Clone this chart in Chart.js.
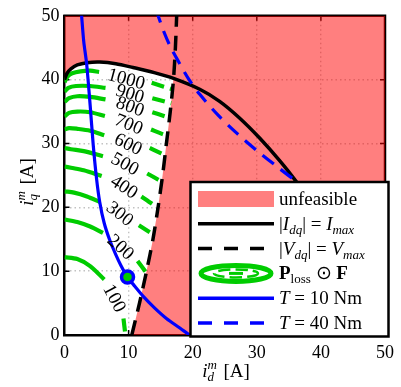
<!DOCTYPE html>
<html>
<head>
<meta charset="utf-8">
<script src="https://cdn.jsdelivr.net/npm/chart.js@4.4.0/dist/chart.umd.min.js"></script>
<style>
  html, body { margin: 0; padding: 0; background: #fff; }
  #c { display: block; }
</style>
</head>
<body>
<canvas id="c" width="401" height="387" style="width:401px;height:387px"></canvas>
<script>
// axis ticks
const xTicks = [0, 10, 20, 30, 40, 50];
const yTicks = [0, 10, 20, 30, 40, 50];

// outline of the unfeasible (red) region
const unfeasibleRegion = [[0,50],[0,40],[0.4,41],[1,41.7],[2,42.3],[3.5,42.65],[5.5,42.75],[8,42.5],[10.7,41.9],[14,41.1],[17,40.2],
  [16.5,35],[15.9,30],[15.3,25],[14.6,20],[13.8,15],[12.8,10],[11.7,5],[10.5,0],[50,0],[50,50],[0,50]];

// |Idq| = Imax
const currentLimit = [[0,40],[0.4,41],[1,41.7],[2,42.3],[3.5,42.65],[5.5,42.75],[8,42.5],[10.7,41.9],[14,41.1],[17,40.2],
  [21.1,38.5],[24.2,36.6],[27.3,34.0],[30.4,30.9],[33.5,27.4],[36.1,24.1],[38.5,20.5],[40.5,16],[42,11],[43,5],[43.3,0]];

// |Vdq| = Vmax
const voltageLimit = [[10.5,0],[11.7,5],[12.8,10],[13.8,15],[14.6,20],[15.3,25],[15.9,30],[16.5,35],[17.0,40],[17.3,45],[17.5,50],[17.55,51]];

// T = 10 Nm and T = 40 Nm
const torque10 = [[2.55,51.5],[2.67,50],[3.0,46],[3.45,42.5],[4.0,36],[4.48,29.8],[5.0,24.5],[5.5,20.8],[6.2,17.5],[7.08,14.8],
  [8.0,12.6],[8.8,10.9],[9.83,9.07],[11,7.6],[12.25,6.1],[14,4.3],[15.9,2.6],[18,1.1],[19.5,0],[21,-1]];
const torque40 = [[14.2,51],[14.6,50],[15.5,47.5],[16.5,45.2],[17.8,42.8],[19.3,40.2],[21.1,37.7],[24,34.4],[27,31.5],
  [30,28.9],[33,26.5],[36,24.2],[39,22.1],[42,20.2]];

// Ploss (.) F contours: part left of the label, part right of it, label place and angle
const lossLevels = [100, 200, 300, 400, 500, 600, 700, 800, 900, 1000];
const lossLeft = [
  [[0,12.2],[2,11.9],[4,10.8],[6.2,8.7]],
  [[0,18.1],[2,17.7],[4,17.0],[6.0,16.0]],
  [[0,22.5],[1.5,22.3],[3.5,21.7],[5.6,20.8]],
  [[0,26.4],[1,26.2],[3,25.8],[5.8,24.9]],
  [[0,29.3],[1,29.1],[3,28.8],[6,28.0]],
  [[0,32.2],[0.7,32.4],[2,32.3],[4,32.0],[6.2,31.3]],
  [[0,34.2],[0.7,34.8],[2,35.0],[4,34.9],[6.3,34.3]],
  [[0,36.5],[0.7,37.1],[2,37.4],[4,37.3],[6.4,36.9]],
  [[0,38.1],[0.6,38.7],[1.8,39.0],[4,39.0],[6.4,38.7]],
  [[0,39.6],[0.5,40.5],[1.2,41.0],[2.5,41.3],[4,41.4],[5.4,41.2]]
];
const lossRight = [
  [[9.2,2.6],[9.5,0]],
  [[11.4,11.6],[12.75,9.8]],
  [[11.6,17.2],[13.3,16.1],[13.95,15.7]],
  [[12.0,21.7],[13.6,20.6],[14.55,19.9]],
  [[12.9,25.3],[14.5,24.4],[15.15,24.0]],
  [[13.3,29.3],[15.0,28.5],[15.7,28.2]],
  [[13.5,32.2],[15.2,31.5],[16.05,31.2]],
  [[13.7,34.9],[15.5,34.3],[16.4,34.0]],
  [[13.7,37.1],[15.5,36.6],[16.65,36.3]],
  [[13.6,39.5],[15.5,38.9],[16.85,38.5]]
];
const lossLabelPos = [[7.7,5.7],[8.7,13.7],[8.6,18.9],[9.25,23.1],[9.4,26.7],[9.9,29.8],[10.0,32.9],[10.2,35.7],[10.2,37.7],[9.6,40.0]];
const lossLabelAngle = [62, 42, 38, 33, 29, 26, 22, 20, 17, 15];

// operating point
const optimumPoint = [9.83, 9.07];

const RED = 'rgba(255,0,0,0.5)';
const GREEN = 'rgb(0,204,0)';
const BLUE = '#0000ff';
const serif = '"Liberation Serif", "Times New Roman", serif';

const pts = arr => arr.map(p => ({ x: p[0], y: p[1] }));

const datasets = [];
datasets.push({
  data: pts(unfeasibleRegion), showLine: true, fill: 'shape', backgroundColor: RED,
  borderColor: 'rgba(0,0,0,0)', borderWidth: 0, pointRadius: 0, tension: 0, order: 20
});
lossLevels.forEach((lvl, i) => {
  datasets.push({ data: pts(lossLeft[i]), showLine: true, borderColor: GREEN, borderWidth: 4.2,
    pointRadius: 0, tension: 0.3, fill: false, order: 10 });
  datasets.push({ data: pts(lossRight[i]), showLine: true, borderColor: GREEN, borderWidth: 4.2, borderDash: [13, 6],
    pointRadius: 0, tension: 0.3, fill: false, order: 10 });
});
datasets.push({ data: pts(currentLimit), showLine: true, borderColor: '#000', borderWidth: 3.5,
  pointRadius: 0, tension: 0.3, fill: false, order: 6 });
datasets.push({ data: pts(voltageLimit), showLine: true, borderColor: '#000', borderWidth: 3.5, borderDash: [15, 9],
  pointRadius: 0, tension: 0.3, fill: false, order: 6 });
datasets.push({ data: pts(torque40), showLine: true, borderColor: BLUE, borderWidth: 3.2, borderDash: [14, 9],
  pointRadius: 0, tension: 0.3, fill: false, order: 4 });
datasets.push({ data: pts(torque10), showLine: true, borderColor: BLUE, borderWidth: 3.2,
  pointRadius: 0, tension: 0.3, fill: false, order: 4 });
datasets.push({ data: [{ x: optimumPoint[0], y: optimumPoint[1] }], showLine: false, pointRadius: 6,
  backgroundColor: GREEN, borderColor: BLUE, borderWidth: 3.5, order: 1 });

// draws a run of text pieces with their own fonts and offsets
function drawRich(ctx, parts, x, y) {
  let w = 0;
  parts.forEach(p => { ctx.font = p.f; p.w = ctx.measureText(p.t).width; if (!p.stack) w += p.w; });
  let cx = x - w / 2;
  parts.forEach(p => {
    ctx.font = p.f;
    ctx.fillText(p.t, cx, y + (p.dy || 0));
    if (!p.stack) cx += p.w;
  });
}
function drawRow(ctx, parts, x, y) {
  let cx = x;
  parts.forEach(p => {
    ctx.font = p.f;
    ctx.fillText(p.t, cx, y + (p.dy || 0));
    cx += ctx.measureText(p.t).width;
  });
}

const R = '19px ' + serif, I = 'italic 19px ' + serif, B = 'bold 19px ' + serif;
const S = '13px ' + serif, SI = 'italic 13px ' + serif;

const legendRows = [
  [{ t: 'unfeasible', f: R }],
  [{ t: '|', f: R }, { t: 'I', f: I }, { t: 'dq', f: SI, dy: 4 }, { t: '| = ', f: R }, { t: 'I', f: I }, { t: 'max', f: SI, dy: 4 }],
  [{ t: '|', f: R }, { t: 'V', f: I }, { t: 'dq', f: SI, dy: 4 }, { t: '| = ', f: R }, { t: 'V', f: I }, { t: 'max', f: SI, dy: 4 }],
  [{ t: 'P', f: B }, { t: 'loss', f: S, dy: 4 }, { t: ' \u2299 ', f: R }, { t: 'F', f: B }],
  [{ t: 'T', f: I }, { t: ' = 10 Nm', f: R }],
  [{ t: 'T', f: I }, { t: ' = 40 Nm', f: R }]
];

const decor = {
  id: 'decor',
  beforeDatasetsDraw(chart) {
    const { ctx, chartArea: a, scales: { x, y } } = chart;
    ctx.save();
    ctx.strokeStyle = '#000';
    ctx.lineWidth = 2.5;
    ctx.beginPath();
    ctx.moveTo(a.left - 1.25, a.top); ctx.lineTo(a.right, a.top); ctx.lineTo(a.right, a.bottom + 1.25);
    ctx.stroke();
    ctx.lineWidth = 1.5;
    ctx.beginPath();
    xTicks.slice(1, -1).forEach(v => {
      const px = x.getPixelForValue(v);
      ctx.moveTo(px, a.bottom); ctx.lineTo(px, a.bottom - 5);
      ctx.moveTo(px, a.top); ctx.lineTo(px, a.top + 5);
    });
    yTicks.slice(1, -1).forEach(v => {
      const py = y.getPixelForValue(v);
      ctx.moveTo(a.left, py); ctx.lineTo(a.left + 5, py);
      ctx.moveTo(a.right, py); ctx.lineTo(a.right - 5, py);
    });
    ctx.stroke();
    ctx.restore();
  },
  afterDatasetsDraw(chart) {
    const { ctx, scales: { x, y } } = chart;
    ctx.save();
    ctx.fillStyle = '#000';
    ctx.font = R;
    ctx.textAlign = 'center';
    ctx.textBaseline = 'middle';
    lossLevels.forEach((lvl, i) => {
      ctx.save();
      ctx.translate(x.getPixelForValue(lossLabelPos[i][0]), y.getPixelForValue(lossLabelPos[i][1]));
      ctx.rotate(lossLabelAngle[i] * Math.PI / 180);
      ctx.fillText(String(lvl), 0, 0);
      ctx.restore();
    });
    ctx.restore();
  },
  afterDraw(chart) {
    const { ctx } = chart;
    ctx.save();
    // legend
    const bx = 190.5, by = 182, bw = 198, bh = 154.5;
    ctx.fillStyle = '#fff';
    ctx.fillRect(bx, by, bw, bh);
    ctx.strokeStyle = '#000';
    ctx.lineWidth = 2.5;
    ctx.strokeRect(bx, by, bw, bh);
    const hx0 = 198, hx1 = 274, tx = 279;
    const rowY = i => 199 + i * 24.8;
    // unfeasible patch
    ctx.fillStyle = RED;
    ctx.fillRect(hx0, rowY(0) - 8, hx1 - hx0, 16);
    const handleLine = (i, color, w, dash) => {
      ctx.beginPath();
      ctx.strokeStyle = color; ctx.lineWidth = w; ctx.setLineDash(dash);
      ctx.moveTo(hx0, rowY(i)); ctx.lineTo(hx1, rowY(i)); ctx.stroke();
      ctx.setLineDash([]);
    };
    handleLine(1, '#000', 3.5, []);
    handleLine(2, '#000', 3.5, [14, 12]);
    handleLine(4, BLUE, 3.5, []);
    handleLine(5, BLUE, 3.5, [14, 12]);
    // contour icon
    const cx = (hx0 + hx1) / 2, cy = rowY(3);
    ctx.strokeStyle = GREEN;
    ctx.lineWidth = 5;
    ctx.beginPath(); ctx.ellipse(cx, cy, 35, 8, 0, 0, Math.PI * 2); ctx.stroke();
    ctx.lineWidth = 2.5;
    ctx.setLineDash([12, 5]);
    ctx.beginPath(); ctx.ellipse(cx, cy, 22, 4, 0, 0, Math.PI * 2); ctx.stroke();
    ctx.setLineDash([]);
    ctx.lineWidth = 3;
    ctx.beginPath(); ctx.moveTo(cx - 7, cy); ctx.lineTo(cx + 7, cy); ctx.stroke();
    // legend texts
    ctx.fillStyle = '#000';
    ctx.textAlign = 'left';
    ctx.textBaseline = 'alphabetic';
    legendRows.forEach((row, i) => drawRow(ctx, row, tx, rowY(i) + 6));
    // axis titles
    drawRich(ctx, [{ t: 'i', f: I }, { t: 'm', f: SI, dy: -8, stack: true }, { t: 'd', f: SI, dy: 4 }, { t: '  [A]', f: R }], 226, 377);
    ctx.save();
    ctx.translate(33, 182);
    ctx.rotate(-Math.PI / 2);
    drawRich(ctx, [{ t: 'i', f: I }, { t: 'm', f: SI, dy: -8, stack: true }, { t: 'q', f: SI, dy: 4 }, { t: '  [A]', f: R }], 0, 0);
    ctx.restore();
    ctx.restore();
  }
};

const gridColor = c => (c.tick && (c.tick.value === 0 || c.tick.value === 50)) ? 'rgba(0,0,0,0)' : '#c2c2c2';

new Chart(document.getElementById('c'), {
  type: 'scatter',
  data: { datasets: datasets },
  options: {
    responsive: false,
    animation: false,
    events: [],
    layout: { padding: { left: 0, right: 15, top: 13.5, bottom: 0 } },
    plugins: { legend: { display: false }, tooltip: { enabled: false }, title: { display: false } },
    scales: {
      x: {
        type: 'linear', min: 0, max: 50,
        afterBuildTicks: s => { s.ticks = xTicks.map(v => ({ value: v })); },
        afterFit: s => { s.height = 52; },
        ticks: { color: '#000', font: { family: serif, size: 18 }, padding: 7, maxRotation: 0 },
        grid: { color: gridColor, lineWidth: 1.4, drawTicks: false },
        border: { color: '#000', width: 2.5, dash: [1.5, 3] }
      },
      y: {
        type: 'linear', min: 0, max: 50,
        afterBuildTicks: s => { s.ticks = yTicks.map(v => ({ value: v })); },
        afterFit: s => { s.width = 64.5; },
        ticks: { color: '#000', font: { family: serif, size: 18 }, padding: 5 },
        grid: { color: gridColor, lineWidth: 1.4, drawTicks: false },
        border: { color: '#000', width: 2.5, dash: [1.5, 3] }
      }
    }
  },
  plugins: [decor]
});
</script>
</body>
</html>
